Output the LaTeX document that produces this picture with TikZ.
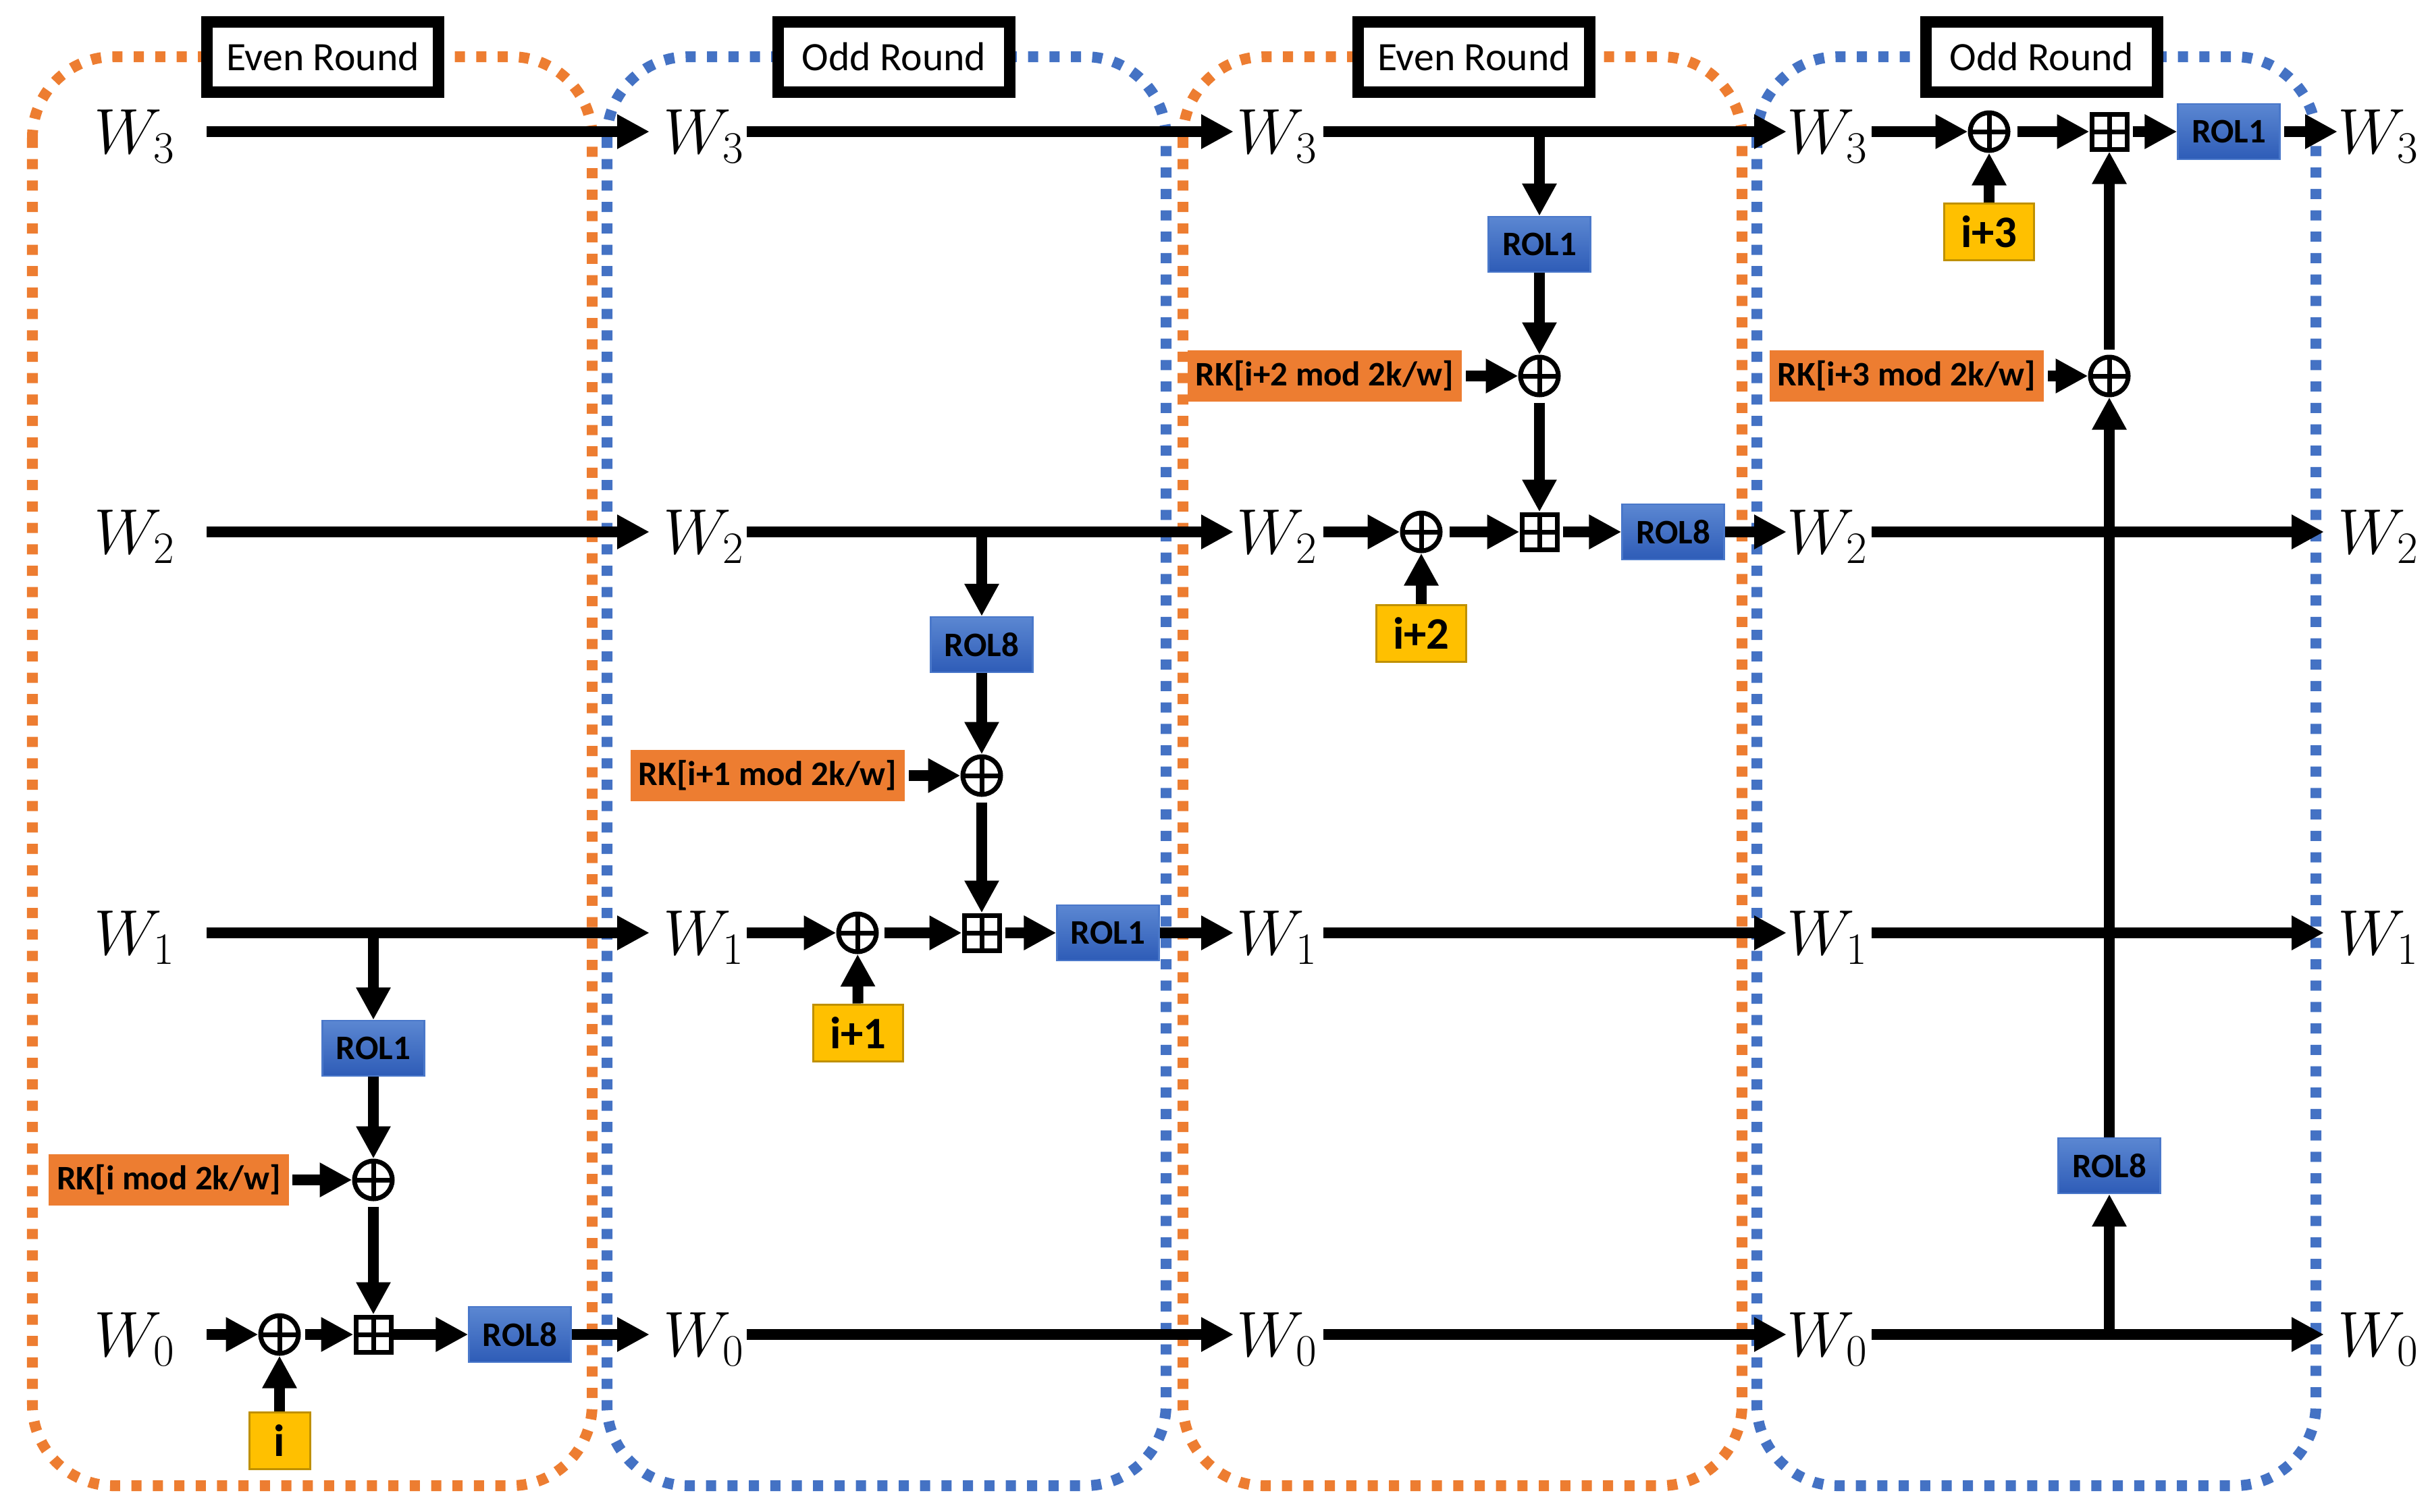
\documentclass[tikz,border=0pt]{standalone}
\usepackage{fix-cm}
\usepackage{amsmath}
\usepackage[no-math]{fontspec}
\setmainfont{Carlito}
\usetikzlibrary{arrows.meta}

\definecolor{evenclr}{HTML}{ED7D31}
\definecolor{oddclr}{HTML}{4472C4}
\definecolor{rkclr}{HTML}{ED7D31}
\definecolor{idxclr}{HTML}{FFC000}
\definecolor{idxline}{HTML}{BF9000}
\definecolor{roltop}{HTML}{5B87D2}
\definecolor{rolbot}{HTML}{2E5CB7}
\definecolor{rolline}{HTML}{4A78CA}

\tikzset{
  arr/.style={line width=0.16cm, -{Triangle[length=0.48cm,width=0.48cm]}},
  wlbl/.style={inner sep=0pt, anchor=west, text height=0.65cm, text depth=0pt,
    font=\fontsize{27}{30}\selectfont},
  rnd/.style={draw, line width=0.17cm, fill=white, minimum width=3.43cm,
    minimum height=1.04cm, inner sep=0pt, font=\fontsize{17}{20}\selectfont},
  evenbox/.style={draw=evenclr, line width=0.16cm, dash pattern=on 0.15cm off 0.167cm,
    rounded corners=1.2cm},
  oddbox/.style={evenbox, draw=oddclr},
  rol/.style={rectangle, draw=rolline, line width=0.6pt, top color=roltop,
    bottom color=rolbot, minimum width=1.51cm, minimum height=0.82cm, inner sep=0pt,
    font=\bfseries\fontsize{14.5}{16}\selectfont},
  rk/.style={fill=rkclr, minimum height=0.76cm, inner xsep=0.12cm, inner ysep=0pt,
    font=\bfseries\fontsize{14.5}{16}\selectfont},
  idx/.style={draw=idxline, line width=0.03cm, fill=idxclr, minimum width=0.9cm,
    minimum height=0.84cm, inner xsep=0.25cm, inner ysep=0pt,
    font=\bfseries\fontsize{19}{21}\selectfont},
  cross/.style={path picture={
    \draw[line width=0.07cm] (path picture bounding box.north) -- (path picture bounding box.south)
      (path picture bounding box.west) -- (path picture bounding box.east);}},
  xorop/.style={circle, draw, line width=0.07cm, minimum size=0.56cm, inner sep=0pt, cross},
  addop/.style={rectangle, draw, line width=0.07cm, minimum size=0.52cm, inner sep=0pt, cross},
}

\begin{document}
\begin{tikzpicture}
    \useasboundingbox (0,0) rectangle (35.99,-22.39);

    % rounds
    \draw[evenbox] (0.48,-0.84) rectangle (8.77,-22.01);
    \draw[oddbox] (8.99,-0.84) rectangle (17.27,-22.01);
    \draw[evenbox] (17.52,-0.84) rectangle (25.80,-22.01);
    \draw[oddbox] (26.02,-0.84) rectangle (34.30,-22.01);
    \node[rnd] (t1) at (4.78,-0.84) {Even Round};
    \node[rnd] (t2) at (13.24,-0.84) {Odd Round};
    \node[rnd] (t3) at (21.83,-0.84) {Even Round};
    \node[rnd] (t4) at (30.24,-0.84) {Odd Round};

    % words
    \node[wlbl] (a3) at (1.39,-1.95) {$W_3$};
    \node[wlbl] (a2) at (1.39,-7.88) {$W_2$};
    \node[wlbl] (a1) at (1.39,-13.82) {$W_1$};
    \node[wlbl] (a0) at (1.39,-19.77) {$W_0$};
    \node[wlbl] (b3) at (9.82,-1.95) {$W_3$};
    \node[wlbl] (b2) at (9.82,-7.88) {$W_2$};
    \node[wlbl] (b1) at (9.82,-13.82) {$W_1$};
    \node[wlbl] (b0) at (9.82,-19.77) {$W_0$};
    \node[wlbl] (c3) at (18.31,-1.95) {$W_3$};
    \node[wlbl] (c2) at (18.31,-7.88) {$W_2$};
    \node[wlbl] (c1) at (18.31,-13.82) {$W_1$};
    \node[wlbl] (c0) at (18.31,-19.77) {$W_0$};
    \node[wlbl] (d3) at (26.46,-1.95) {$W_3$};
    \node[wlbl] (d2) at (26.46,-7.88) {$W_2$};
    \node[wlbl] (d1) at (26.46,-13.82) {$W_1$};
    \node[wlbl] (d0) at (26.46,-19.77) {$W_0$};
    \node[wlbl] (e3) at (34.62,-1.95) {$W_3$};
    \node[wlbl] (e2) at (34.62,-7.88) {$W_2$};
    \node[wlbl] (e1) at (34.62,-13.82) {$W_1$};
    \node[wlbl] (e0) at (34.62,-19.77) {$W_0$};

    % round 1
    \coordinate (r1br) at (5.53,-13.82);
    \node[rol] (r1rol) at (5.53,-15.53) {ROL1};
    \node[xorop] (r1k) at (5.53,-17.48) {};
    \node[rk] (r1rk) at (2.50,-17.48) {RK[i mod 2k/w]};
    \node[xorop] (r1x) at (4.14,-19.77) {};
    \node[idx] (r1i) at (4.14,-21.34) {i};
    \node[addop] (r1add) at (5.53,-19.77) {};
    \node[rol] (r1rol8) at (7.70,-19.77) {ROL8};

    % round 2
    \coordinate (r2br) at (14.54,-7.88);
    \node[rol] (r2rol) at (14.54,-9.55) {ROL8};
    \node[xorop] (r2k) at (14.54,-11.49) {};
    \node[rk] (r2rk) at (11.37,-11.49) {RK[i+1 mod 2k/w]};
    \node[xorop] (r2x) at (12.70,-13.82) {};
    \node[idx] (r2i) at (12.71,-15.30) {i+1};
    \node[addop] (r2add) at (14.54,-13.82) {};
    \node[rol] (r2rol1) at (16.41,-13.82) {ROL1};

    % round 3
    \coordinate (r3br) at (22.80,-1.95);
    \node[rol] (r3rol) at (22.80,-3.62) {ROL1};
    \node[xorop] (r3k) at (22.80,-5.57) {};
    \node[rk] (r3rk) at (19.62,-5.57) {RK[i+2 mod 2k/w]};
    \node[xorop] (r3x) at (21.05,-7.88) {};
    \node[idx] (r3i) at (21.05,-9.38) {i+2};
    \node[addop] (r3add) at (22.80,-7.88) {};
    \node[rol] (r3rol8) at (24.78,-7.88) {ROL8};

    % round 4
    \coordinate (r4br) at (31.24,-19.77);
    \node[rol] (r4rol) at (31.24,-17.27) {ROL8};
    \node[xorop] (r4k) at (31.24,-5.57) {};
    \node[rk] (r4rk) at (28.24,-5.57) {RK[i+3 mod 2k/w]};
    \node[xorop] (r4x) at (29.46,-1.95) {};
    \node[idx] (r4i) at (29.46,-3.43) {i+3};
    \node[addop] (r4add) at (31.24,-1.95) {};
    \node[rol] (r4rol1) at (33.01,-1.95) {ROL1};

    % round 1 lines
    \draw[arr, shorten <=0.46cm, shorten >=0.2cm] (a3) -- (b3);
    \draw[arr, shorten <=0.46cm, shorten >=0.2cm] (a2) -- (b2);
    \draw[arr, shorten <=0.46cm, shorten >=0.2cm] (a1) -- (b1);
    \draw[arr] (r1br) -- (r1rol);
    \draw[arr] (r1rol) -- (r1k);
    \draw[arr, shorten <=0.05cm] (r1rk) -- (r1k);
    \draw[arr, shorten <=0.08cm] (r1k) -- (r1add);
    \draw[arr, shorten <=0.46cm] (a0) -- (r1x);
    \draw[arr] (r1i) -- (r1x);
    \draw[arr, shorten <=0.06cm] (r1x) -- (r1add);
    \draw[arr] (r1add) -- (r1rol8);
    \draw[arr, shorten >=0.2cm] (r1rol8) -- (b0);

    % round 2 lines
    \draw[arr, shorten <=0.03cm, shorten >=0.04cm] (b3) -- (c3);
    \draw[arr, shorten <=0.03cm, shorten >=0.04cm] (b2) -- (c2);
    \draw[arr, shorten <=0.03cm, shorten >=0.04cm] (b0) -- (c0);
    \draw[arr] (r2br) -- (r2rol);
    \draw[arr] (r2rol) -- (r2k);
    \draw[arr, shorten <=0.05cm] (r2rk) -- (r2k);
    \draw[arr, shorten <=0.08cm] (r2k) -- (r2add);
    \draw[arr, shorten <=0.03cm] (b1) -- (r2x);
    \draw[arr] (r2i) -- (r2x);
    \draw[arr, shorten <=0.08cm] (r2x) -- (r2add);
    \draw[arr, shorten <=0.05cm] (r2add) -- (r2rol1);
    \draw[arr, shorten >=0.04cm] (r2rol1) -- (c1);

    % round 3 lines
    \draw[arr, shorten <=0.08cm] (c3) -- (d3);
    \draw[arr, shorten <=0.08cm] (c1) -- (d1);
    \draw[arr, shorten <=0.08cm] (c0) -- (d0);
    \draw[arr] (r3br) -- (r3rol);
    \draw[arr] (r3rol) -- (r3k);
    \draw[arr, shorten <=0.05cm] (r3rk) -- (r3k);
    \draw[arr, shorten <=0.08cm] (r3k) -- (r3add);
    \draw[arr, shorten <=0.08cm] (c2) -- (r3x);
    \draw[arr] (r3i) -- (r3x);
    \draw[arr, shorten <=0.1cm] (r3x) -- (r3add);
    \draw[arr, shorten <=0.05cm] (r3add) -- (r3rol8);
    \draw[arr] (r3rol8) -- (d2);

    % round 4 lines
    \draw[arr, shorten <=0.05cm, shorten >=0.2cm] (d2) -- (e2);
    \draw[arr, shorten <=0.05cm, shorten >=0.2cm] (d1) -- (e1);
    \draw[arr, shorten <=0.05cm, shorten >=0.2cm] (d0) -- (e0);
    \draw[arr] (r4br) -- (r4rol);
    \draw[arr] (r4rol) -- (r4k);
    \draw[arr, shorten <=0.05cm] (r4rk) -- (r4k);
    \draw[arr, shorten <=0.08cm] (r4k) -- (r4add);
    \draw[arr, shorten <=0.05cm] (d3) -- (r4x);
    \draw[arr] (r4i) -- (r4x);
    \draw[arr, shorten <=0.1cm] (r4x) -- (r4add);
    \draw[arr, shorten <=0.05cm] (r4add) -- (r4rol1);
    \draw[arr, shorten <=0.05cm] (r4rol1) -- (e3);
\end{tikzpicture}
\end{document}
